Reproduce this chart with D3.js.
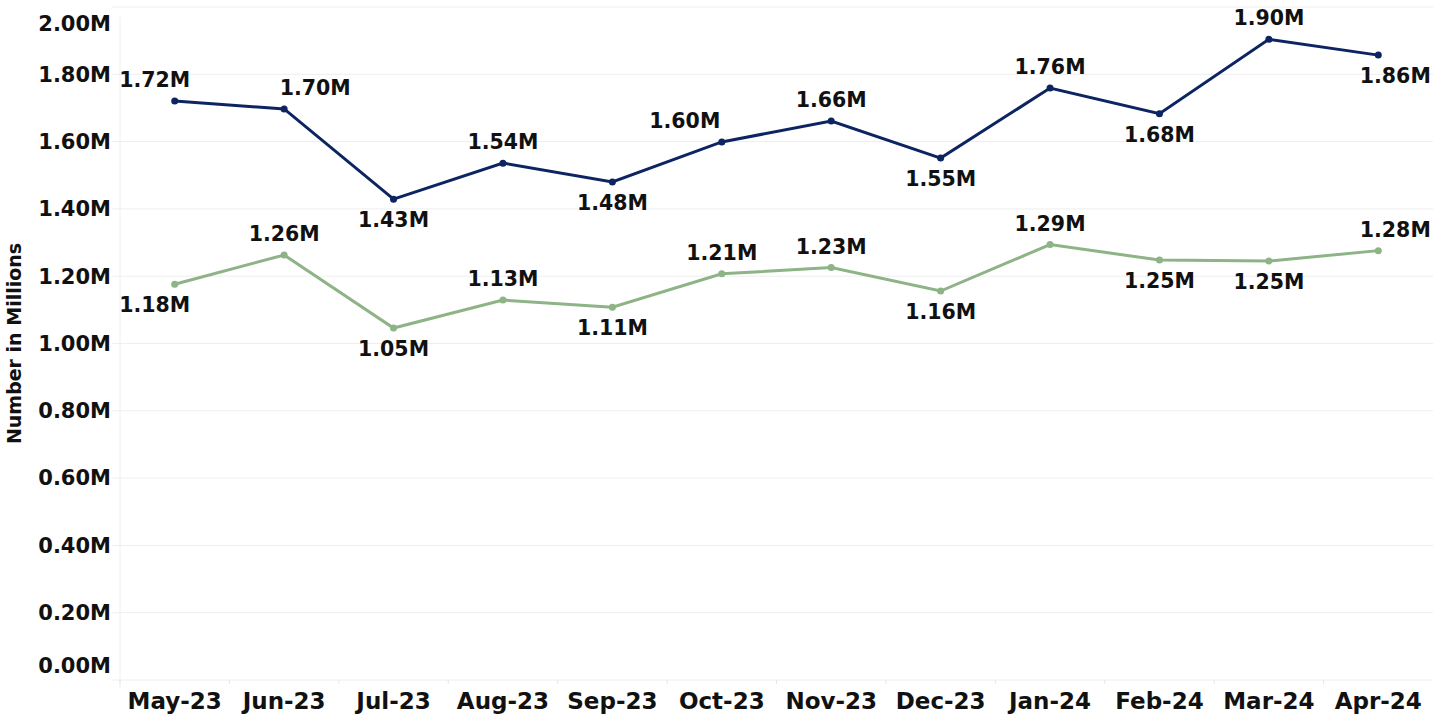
<!DOCTYPE html>
<html>
<head>
<meta charset="utf-8">
<script src="https://d3js.org/d3.v7.min.js"></script>
<style>
  body { margin: 0; background: #fff; }
  * { font-family: "DejaVu Sans", sans-serif; }
</style>
</head>
<body>
<svg id="chart" width="1451" height="722"></svg>
<script>
// data
const months = ["May-23", "Jun-23", "Jul-23", "Aug-23", "Sep-23", "Oct-23",
                "Nov-23", "Dec-23", "Jan-24", "Feb-24", "Mar-24", "Apr-24"];
const seriesTop = [1.721, 1.697, 1.429, 1.536, 1.480, 1.599, 1.661, 1.551, 1.759, 1.683, 1.904, 1.857];
const seriesBottom = [1.176, 1.263, 1.046, 1.129, 1.108, 1.207, 1.226, 1.156, 1.294, 1.248, 1.245, 1.276];
const yTicks = [0, 0.2, 0.4, 0.6, 0.8, 1.0, 1.2, 1.4, 1.6, 1.8, 2.0];

// label placement: u = above, d = below, with small horizontal nudges
const topPlace = ["u", "u", "d", "u", "d", "u", "u", "d", "u", "d", "u", "d"];
const topNudge = [-20, 31, 0, 0, 0, -37, 0, 0, 0, 0, 0, 17];
const bottomPlace = ["d", "u", "d", "u", "d", "u", "u", "d", "u", "d", "d", "u"];
const bottomNudge = [-20, 0, 0, 0, 0, 0, 0, 0, 0, 0, 0, 17];

const svg = d3.select("#chart");
const margin = { top: 7, right: 18, bottom: 42, left: 120 };
const width = +svg.attr("width");
const height = +svg.attr("height");

const x = d3.scaleBand().domain(months).range([margin.left, width - margin.right]);
const y = d3.scaleLinear().domain([0, 2]).range([height - margin.bottom, margin.top]);

// gridlines
svg.append("g")
  .selectAll("line")
  .data(yTicks)
  .join("line")
  .attr("x1", margin.left - 8)
  .attr("x2", width - margin.right)
  .attr("y1", d => y(d))
  .attr("y2", d => y(d))
  .attr("stroke", "#eeeeee")
  .attr("stroke-width", 1);

// y axis line
svg.append("line")
  .attr("x1", margin.left).attr("x2", margin.left)
  .attr("y1", margin.top + 10).attr("y2", height - margin.bottom + 8)
  .attr("stroke", "#eeeeee");

// y tick labels (ends nudged inside like the original)
svg.append("g")
  .selectAll("text")
  .data(yTicks)
  .join("text")
  .attr("x", margin.left - 9)
  .attr("y", (d, i) => y(d) + (i === 0 ? -14 : i === yTicks.length - 1 ? 17 : 0))
  .attr("dy", "0.35em")
  .attr("text-anchor", "end")
  .attr("font-size", 21)
  .attr("font-weight", "bold")
  .attr("fill", "#111")
  .text(d => d3.format(".2f")(d) + "M");

// x axis
const xAxis = d3.axisBottom(x).tickSize(0).tickPadding(13);
const gx = svg.append("g")
  .attr("transform", `translate(0,${height - margin.bottom})`)
  .call(xAxis);
gx.select(".domain").remove();
gx.selectAll("text")
  .attr("font-size", 23)
  .attr("font-weight", "bold")
  .attr("fill", "#111")
  .style("font-family", "DejaVu Sans, sans-serif");

// small band separators at bottom
svg.append("g")
  .selectAll("line")
  .data(months)
  .join("line")
  .attr("x1", d => x(d)).attr("x2", d => x(d))
  .attr("y1", height - margin.bottom).attr("y2", height - margin.bottom + 4)
  .attr("stroke", "#e6e6e6");

// y axis title
svg.append("text")
  .attr("transform", `translate(21,${(margin.top + height - margin.bottom) / 2}) rotate(-90)`)
  .attr("text-anchor", "middle")
  .attr("font-size", 19)
  .attr("font-weight", "bold")
  .attr("fill", "#111")
  .text("Number in Millions");

const line = d3.line()
  .x((d, i) => x(months[i]) + x.bandwidth() / 2)
  .y(d => y(d));

function drawSeries(values, color, place, nudge) {
  svg.append("path")
    .datum(values)
    .attr("fill", "none")
    .attr("stroke", color)
    .attr("stroke-width", 3)
    .attr("d", line);

  svg.append("g")
    .selectAll("circle")
    .data(values)
    .join("circle")
    .attr("cx", (d, i) => x(months[i]) + x.bandwidth() / 2)
    .attr("cy", d => y(d))
    .attr("r", 3.5)
    .attr("fill", color);

  svg.append("g")
    .selectAll("text")
    .data(values)
    .join("text")
    .attr("x", (d, i) => x(months[i]) + x.bandwidth() / 2 + nudge[i])
    .attr("y", (d, i) => y(d) + (place[i] === "u" ? -21 : 21))
    .attr("dy", "0.35em")
    .attr("text-anchor", "middle")
    .attr("font-size", 20.5)
    .attr("font-weight", "bold")
    .attr("fill", "#111")
    .text(d => d3.format(".2f")(d) + "M");
}

drawSeries(seriesTop, "#0d2462", topPlace, topNudge);
drawSeries(seriesBottom, "#8db386", bottomPlace, bottomNudge);
</script>
</body>
</html>
